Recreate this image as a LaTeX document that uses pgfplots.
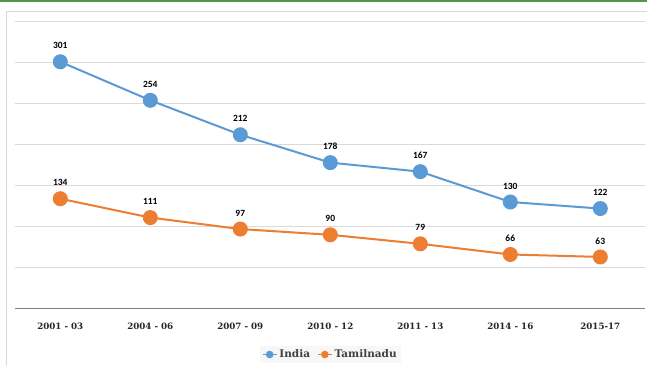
\documentclass[border=0pt]{standalone}
\usepackage{pgfplots}
\pgfplotsset{compat=1.18}
\usepackage{fontspec}
\setmainfont{DejaVu Serif}
\newfontfamily\lblfont{Carlito}
\definecolor{indiablue}{HTML}{5B9BD5}
\definecolor{tnorange}{HTML}{ED7D31}
\definecolor{gridgray}{HTML}{DADADA}
\definecolor{topgreen}{HTML}{4E9A45}
\begin{document}
\begin{tikzpicture}[x=1pt,y=1pt]
\fill[white] (0,0) rectangle (647,366);
\draw[topgreen, line width=2pt] (0,365) -- (647,365);
\draw[black!15, line width=1pt] (6,0) -- (6,354) -- (647,354);
\begin{axis}[
  at={(17,70)}, anchor=south west,
  scale only axis, width=630, height=287,
  xmin=-0.5, xmax=6.5, ymin=0, ymax=350,
  /pgf/number format/assume math mode=true,
  ytick={0,50,...,350}, yticklabels={},
  ymajorgrids, grid style={gridgray, line width=0.8pt},
  axis x line=bottom, axis y line=left,
  y axis line style={draw=none},
  x axis line style={-, draw=black!50, line width=1.4pt},
  xtick=data,
  xticklabels={2001 - 03, 2004 - 06, 2007 - 09, 2010 - 12, 2011 - 13, 2014 - 16, 2015-17},
  major tick length=0pt, ytick style={draw=none}, xtick style={draw=none},
  xticklabel style={font=\bfseries\fontsize{8.7}{10}\selectfont, text=black!85, yshift=-11pt},
  nodes near coords,
  every node near coord/.append style={font=\lblfont\bfseries\fontsize{9.5}{10}\selectfont, text=black, anchor=center, yshift=16pt},
  clip=false,
  legend style={at={(0.5,-0.16)}, anchor=center, draw=none, fill=black!3,
    legend columns=2, font=\bfseries\fontsize{10.5}{12}\selectfont, text=black!75,
    /tikz/every even column/.append style={column sep=5pt}, inner sep=2pt},
  legend image code/.code={\draw[mark repeat=2,mark phase=2,#1,mark size=3pt,line width=1.5pt] plot coordinates {(0pt,0pt)(7pt,0pt)(14pt,0pt)};},
]
\addplot[indiablue, line width=2pt, mark=*, mark size=6.5pt, mark options={fill=indiablue, draw=indiablue}]
  coordinates {(0,301) (1,254) (2,212) (3,178) (4,167) (5,130) (6,122)};
\addlegendentry{India}
\addplot[tnorange, line width=2pt, mark=*, mark size=6.5pt, mark options={fill=tnorange, draw=tnorange}]
  coordinates {(0,134) (1,111) (2,97) (3,90) (4,79) (5,66) (6,63)};
\addlegendentry{Tamilnadu}
\end{axis}
\pgfresetboundingbox
\path (0,0) rectangle (647,366);
\end{tikzpicture}
\end{document}
